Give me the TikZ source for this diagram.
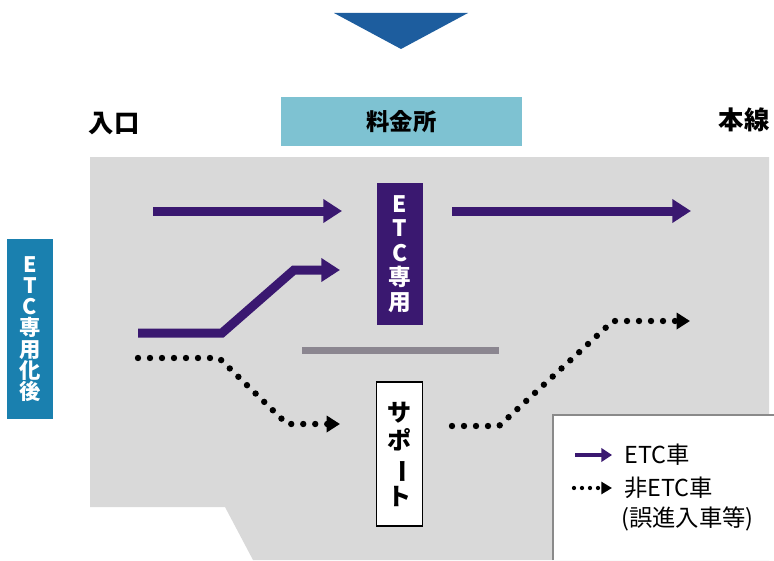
\documentclass[tikz,border=0pt]{standalone}
\usepackage{fontspec}
\setmainfont{Noto Sans CJK JP}
\usepackage{graphicx}
\usetikzlibrary{arrows.meta}
\definecolor{etcpurple}{HTML}{3A1870}
\definecolor{grayarea}{HTML}{D9D9D9}
\definecolor{tealbox}{HTML}{7EC2D2}
\definecolor{bluebox}{HTML}{1A80AF}
\definecolor{tridark}{HTML}{1D5D9E}
\definecolor{barcol}{HTML}{8B8690}
\definecolor{legborder}{HTML}{8A8A8A}
\tikzset{
  etcarrow/.style={draw=etcpurple, line width=6.75pt, -{Triangle[length=14pt,width=17pt]}},
  dotarrow/.style={draw=black, line width=4.8pt, line cap=round, dash pattern=on 0pt off 9pt, -{Triangle[length=10pt,width=12pt]}},
  legetc/.style={draw=etcpurple, line width=3.5pt, -{Triangle[length=8pt,width=10pt]}},
  legdot/.style={draw=black, line width=3.2pt, line cap=round, dash pattern=on 0pt off 6pt, -{Triangle[length=8pt,width=9pt]}},
  bigtext/.style={font=\bfseries\fontsize{19}{22}\selectfont, inner sep=0pt},
  legtext/.style={font=\fontsize{17.5}{20}\selectfont, inner sep=0pt, anchor=west},
}
\begin{document}
\begin{tikzpicture}[x=0.75pt,y=-0.75pt]
\useasboundingbox (0,0) rectangle (774,560);
% top triangle
\fill[tridark] (334,13) -- (468,13) -- (401,49) -- cycle;
% gray area
\fill[grayarea] (90,157) -- (769,157) -- (769,560) -- (253,560) -- (225,507) -- (90,507) -- cycle;
% toll label
\node[fill=tealbox, minimum width=241*0.75pt, minimum height=49*0.75pt, inner sep=0pt,
      font=\bfseries\fontsize{17.5}{20}\selectfont] (toll) at (401.5,121.5) {料金所};
\node[bigtext] (entry) at (114,124) {入口};
\node[bigtext] (main) at (744,120) {本線};
% left blue label
\node[fill=bluebox, text=white, minimum width=46*0.75pt, minimum height=180*0.75pt, inner sep=0pt,
      align=center, font=\bfseries\fontsize{16}{15.9}\selectfont] (after) at (30,329)
      {E\\T\\C\\専\\用\\化\\後};
% ETC only booth
\node[fill=etcpurple, text=white, minimum width=46*0.75pt, minimum height=142*0.75pt, inner sep=0pt,
      align=center, font=\bfseries\fontsize{17}{18.4}\selectfont] (etcbooth) at (400,254)
      {E\\T\\C\\専\\用};
% separator bar
\fill[barcol] (302,346.5) rectangle (499,353.5);
\coordinate (barl) at (302,350);
% support booth
\node[fill=white, draw=black, line width=1.2pt, minimum width=46*0.75pt, minimum height=144*0.75pt, inner sep=0pt,
      align=center, font=\bfseries\fontsize{18}{21}\selectfont] (support) at (399.5,454)
      {サ\\ポ\\\rotatebox[origin=c]{-90}{ー}\\ト};
% arrows
\coordinate (a1s) at (153,211);
\coordinate (a1e) at (342,211);
\coordinate (a2s) at (452,211);
\coordinate (a2e) at (691,211);
\draw[etcarrow] (a1s) -- (a1e);
\draw[etcarrow] (a2s) -- (a2e);
\coordinate (b1) at (138,333);
\coordinate (b2) at (222,333);
\coordinate (b3) at (294,270);
\coordinate (b4) at (340,270);
\draw[etcarrow, line join=miter] (b1) -- (b2) -- (b3) -- (b4);
\coordinate (c1) at (138,358);
\coordinate (c2) at (219,358);
\coordinate (c3) at (287,424);
\coordinate (c4) at (340,424);
\draw[dotarrow] (c1) -- (c2) -- (c3) -- (c4);
\coordinate (d1) at (452,426);
\coordinate (d2) at (499,426);
\coordinate (d3) at (613,321);
\coordinate (d4) at (690,321);
\draw[dotarrow] (d1) -- (d2) -- (d3) -- (d4);
% legend
\fill[white] (553,415) rectangle (774,560);
\draw[legborder, line width=1pt] (553,560) -- (553,415) -- (774,415);
\coordinate (l1s) at (575,455);
\coordinate (l1e) at (612,455);
\draw[legetc] (l1s) -- (l1e);
\node[legtext] (letc) at (624,455) {ETC車};
\coordinate (l2s) at (574,488);
\coordinate (l2e) at (612,488);
\draw[legdot] (l2s) -- (l2e);
\node[legtext] (lnon) at (624,488) {非ETC車};
\node[legtext] (lnon2) at (621,519) {(誤進入車等)};
\end{tikzpicture}
\end{document}
